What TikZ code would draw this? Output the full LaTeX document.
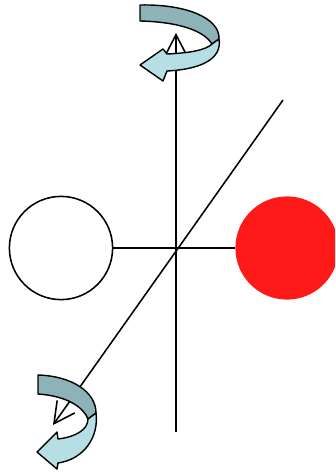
\documentclass[tikz,border=0pt]{standalone}
\usepackage{xcolor}
\usepackage{tikz}
\usetikzlibrary{arrows.meta, positioning}

\definecolor{redfill}{RGB}{255,26,26}
\definecolor{bandback}{RGB}{141,178,184}
\definecolor{bandfront}{RGB}{182,223,229}

\begin{document}
\begin{tikzpicture}[x=0.025cm, y=-0.025cm,
		axis/.style={black, line width=1.1pt},
		tipped/.style={axis, -{Straight Barb[length=5.2mm, width=5.4mm, line width=1.1pt]}},
		openball/.style={circle, draw=black, line width=1.1pt, fill=white, minimum size=2.58cm, inner sep=0pt},
		solidball/.style={circle, fill=redfill, minimum size=2.58cm, inner sep=0pt},
		backband/.style={draw=black, line width=1pt, fill=bandback, line join=round},
		frontband/.style={draw=black, line width=1pt, fill=bandfront, line join=round}]
	\useasboundingbox (0,0) rectangle (335,472);
	\clip (0,0) rectangle (335,472);
	% axes
	\coordinate (ztop) at (176,33);
	\coordinate (zbot) at (176,432);
	\coordinate (dtop) at (283,100);
	\coordinate (dtip) at (53,425);
	\draw[tipped] (zbot) -- (ztop);
	\draw[tipped] (dtop) -- (dtip);
	% the two balls
	\node[openball] (lball) at (61,248) {};
	\node[solidball] (rball) at (287,248) {};
	\draw[axis] (lball) -- (rball);
	% rotation arrow at the top
	\filldraw[backband] (140,5) .. controls (186,4) and (220,18) .. (219,39)
		-- (212,44) .. controls (204,31) and (180,22) .. (140,21) -- cycle;
	\filldraw[frontband] (219,39) .. controls (222,57) and (205,69) .. (167,71)
		-- (163,81) -- (140,65) -- (163,49) -- (167,54)
		.. controls (190,53) and (206,50) .. (212,44) -- cycle;
	% rotation arrow at the bottom
	\filldraw[backband] (38,375) .. controls (72,376) and (96,392) .. (96,413)
		-- (88,419) .. controls (84,408) and (68,396) .. (38,394) -- cycle;
	\filldraw[frontband] (96,413) .. controls (99,436) and (85,459) .. (58,463)
		-- (57,469) -- (37,452) -- (57,432) -- (58,439)
		.. controls (75,437) and (88,430) .. (88,419) -- cycle;
\end{tikzpicture}
\end{document}
